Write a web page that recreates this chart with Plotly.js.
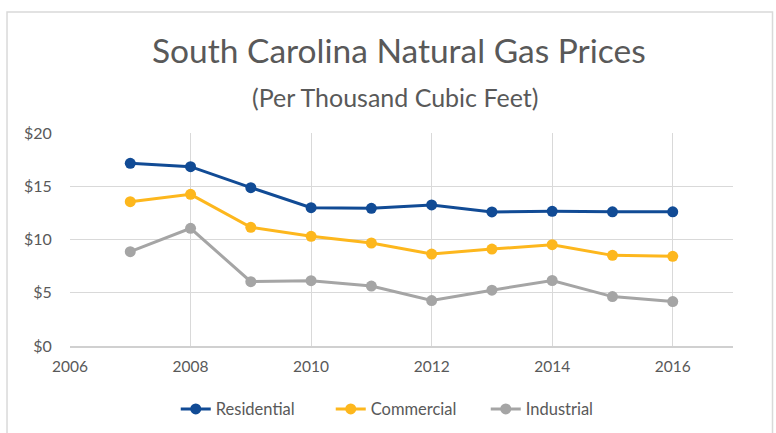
<!DOCTYPE html>
<html>
<head>
<meta charset="utf-8">
<script src="https://cdn.plot.ly/plotly-3.0.1.min.js"></script>
<style>
  html, body { margin: 0; padding: 0; background: #ffffff; }
  #chart { width: 776px; height: 433px; }
</style>
</head>
<body>
<div id="chart"></div>
<script>
const years = [2007, 2008, 2009, 2010, 2011, 2012, 2013, 2014, 2015, 2016];
const residential = [17.15, 16.84, 14.87, 12.99, 12.93, 13.25, 12.59, 12.65, 12.60, 12.60];
const commercial  = [13.55, 14.24, 11.14, 10.30, 9.67, 8.63, 9.10, 9.51, 8.51, 8.42];
const industrial  = [8.86, 11.05, 6.04, 6.13, 5.63, 4.27, 5.24, 6.15, 4.64, 4.17];
const seriesNames = ["Residential", "Commercial", "Industrial"];
const titleText = "South Carolina Natural Gas Prices";
const subtitleText = "(Per Thousand Cubic Feet)";

const colors = ["#114b95", "#fdb71d", "#a5a5a5"];
const values = [residential, commercial, industrial];
const FONT = "Lato, 'Open Sans', sans-serif";

const traces = values.map((v, i) => ({
  x: years,
  y: v,
  name: seriesNames[i],
  type: "scatter",
  mode: "lines+markers",
  line: { color: colors[i], width: 3 },
  marker: { color: colors[i], size: 11 }
}));

const layout = {
  width: 776,
  height: 433,
  margin: { l: 70, r: 43, t: 133, b: 87 },
  paper_bgcolor: "#ffffff",
  plot_bgcolor: "#ffffff",
  font: { family: FONT, color: "#595959", size: 15 },
  title: {
    text: titleText,
    font: { family: FONT, size: 33.5, color: "#595959" },
    x: 0.514, xanchor: "center",
    y: 0.882, yanchor: "middle", yref: "container"
  },
  annotations: [{
    text: subtitleText,
    xref: "paper", yref: "paper",
    x: 0.490, y: 1.17, xanchor: "center", yanchor: "middle",
    showarrow: false,
    font: { family: FONT, size: 25, color: "#595959" }
  }],
  xaxis: {
    range: [2006, 2017],
    tick0: 2006, dtick: 2,
    showgrid: true, gridcolor: "#d9d9d9", gridwidth: 1,
    zeroline: false,
    showline: true, linecolor: "#d0d0d0", linewidth: 2,
    ticks: "outside", ticklen: 5, tickcolor: "rgba(0,0,0,0)",
    tickfont: { family: FONT, size: 15.5, color: "#595959" }
  },
  yaxis: {
    range: [0, 20],
    dtick: 5,
    tickprefix: "$",
    showgrid: true, gridcolor: "#d9d9d9", gridwidth: 1,
    zeroline: false,
    showline: false,
    ticks: "outside", ticklen: 14, tickcolor: "rgba(0,0,0,0)",
    tickfont: { family: FONT, size: 16, color: "#595959" }
  },
  legend: {
    orientation: "h",
    x: 0.1595, xanchor: "left",
    y: 0.055, yanchor: "middle", yref: "container",
    font: { family: FONT, size: 16.5, color: "#595959" },
    entrywidth: 110, entrywidthmode: "pixels"
  },
  shapes: [{
    type: "rect", xref: "paper", yref: "paper",
    x0: -0.095, x1: 1.0596, y0: -0.5, y1: 1.568,
    line: { color: "#d9d9d9", width: 1.5 },
    fillcolor: "rgba(0,0,0,0)",
    layer: "below"
  }],
  showlegend: true
};

Plotly.newPlot("chart", traces, layout, { displayModeBar: false, staticPlot: true });
</script>
</body>
</html>
